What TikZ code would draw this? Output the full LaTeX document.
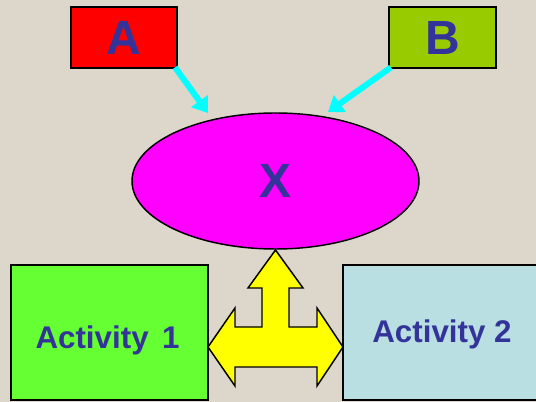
\documentclass[tikz,border=0pt]{standalone}
\usepackage{xcolor}
\usepackage{fontspec}
\setmainfont{Liberation Sans}
\usetikzlibrary{arrows.meta}
\usetikzlibrary{shapes.geometric}
\definecolor{paper}{HTML}{DDD6CB}
\definecolor{letter}{HTML}{333399}
\definecolor{boxA}{HTML}{FF0000}
\definecolor{boxB}{HTML}{99CC00}
\definecolor{blob}{HTML}{FF00FF}
\definecolor{act1}{HTML}{66FF33}
\definecolor{act2}{HTML}{B9DFE2}
\definecolor{feed}{HTML}{00FFFF}
\definecolor{tee}{HTML}{FFFF00}
\tikzstyle{box}=[draw=black,line width=1.1pt,inner sep=0pt]

\begin{document}
\begin{tikzpicture}[
    x=0.75pt,y=-0.75pt,
    big/.style={font=\fontsize{36}{40}\selectfont\bfseries,text=letter},
    mid/.style={font=\fontsize{23.5}{28}\selectfont\bfseries,text=letter},
    feedarrow/.style={feed,line width=4.5pt,-{Triangle[length=11pt,width=15pt]}},
    teearrow/.style={draw=black,fill=tee,line width=1.1pt,line join=miter}
  ]

  \def\W{536}   % picture width
  \def\H{402}   % picture height
  \def\u{0.75pt}% one pixel

  % PAPER
  \fill[paper] (0,0) rectangle (\W,\H);
  \clip (0,0) rectangle (\W,\H);

  % SOURCES
  \node[box,fill=boxA,big,minimum width=106*\u,minimum height=61*\u] (A) at (124,37.5) {A};
  \node[box,fill=boxB,big,minimum width=107*\u,minimum height=61*\u] (B) at (442.5,37.5) {B};

  % TARGET
  \node[ellipse,box,fill=blob,big,minimum width=287*\u,minimum height=136*\u] (X) at (275.5,181) {X};

  % ACTIVITIES
  \draw[box,fill=act1] (11,265) rectangle (208,400);
  \node[mid] (act1) at (107.5,340) {Activity\hspace{3.5pt} 1};
  \draw[box,fill=act2] (343,265) rectangle (545,400);
  \node[mid] (act2) at (442,334) {Activity 2};

  % FEEDS
  \coordinate (tipA) at (208,113);
  \coordinate (tipB) at (328,112);
  \draw[feedarrow] ([xshift=-2pt,yshift=1pt]A.south east) -- (tipA);
  \draw[feedarrow] ([xshift=2pt,yshift=1pt]B.south west) -- (tipB);

  % THREE WAY ARROW
  \draw[teearrow]
    (275.5,250) -- (303,288) -- (289,288) -- (289,327) -- (317,327) -- (317,308)
    -- (343,347) -- (317,386) -- (317,367) -- (235,367) -- (235,386) -- (208,347)
    -- (235,308) -- (235,327) -- (262,327) -- (262,288) -- (248,288) -- cycle;

\end{tikzpicture}
\end{document}
